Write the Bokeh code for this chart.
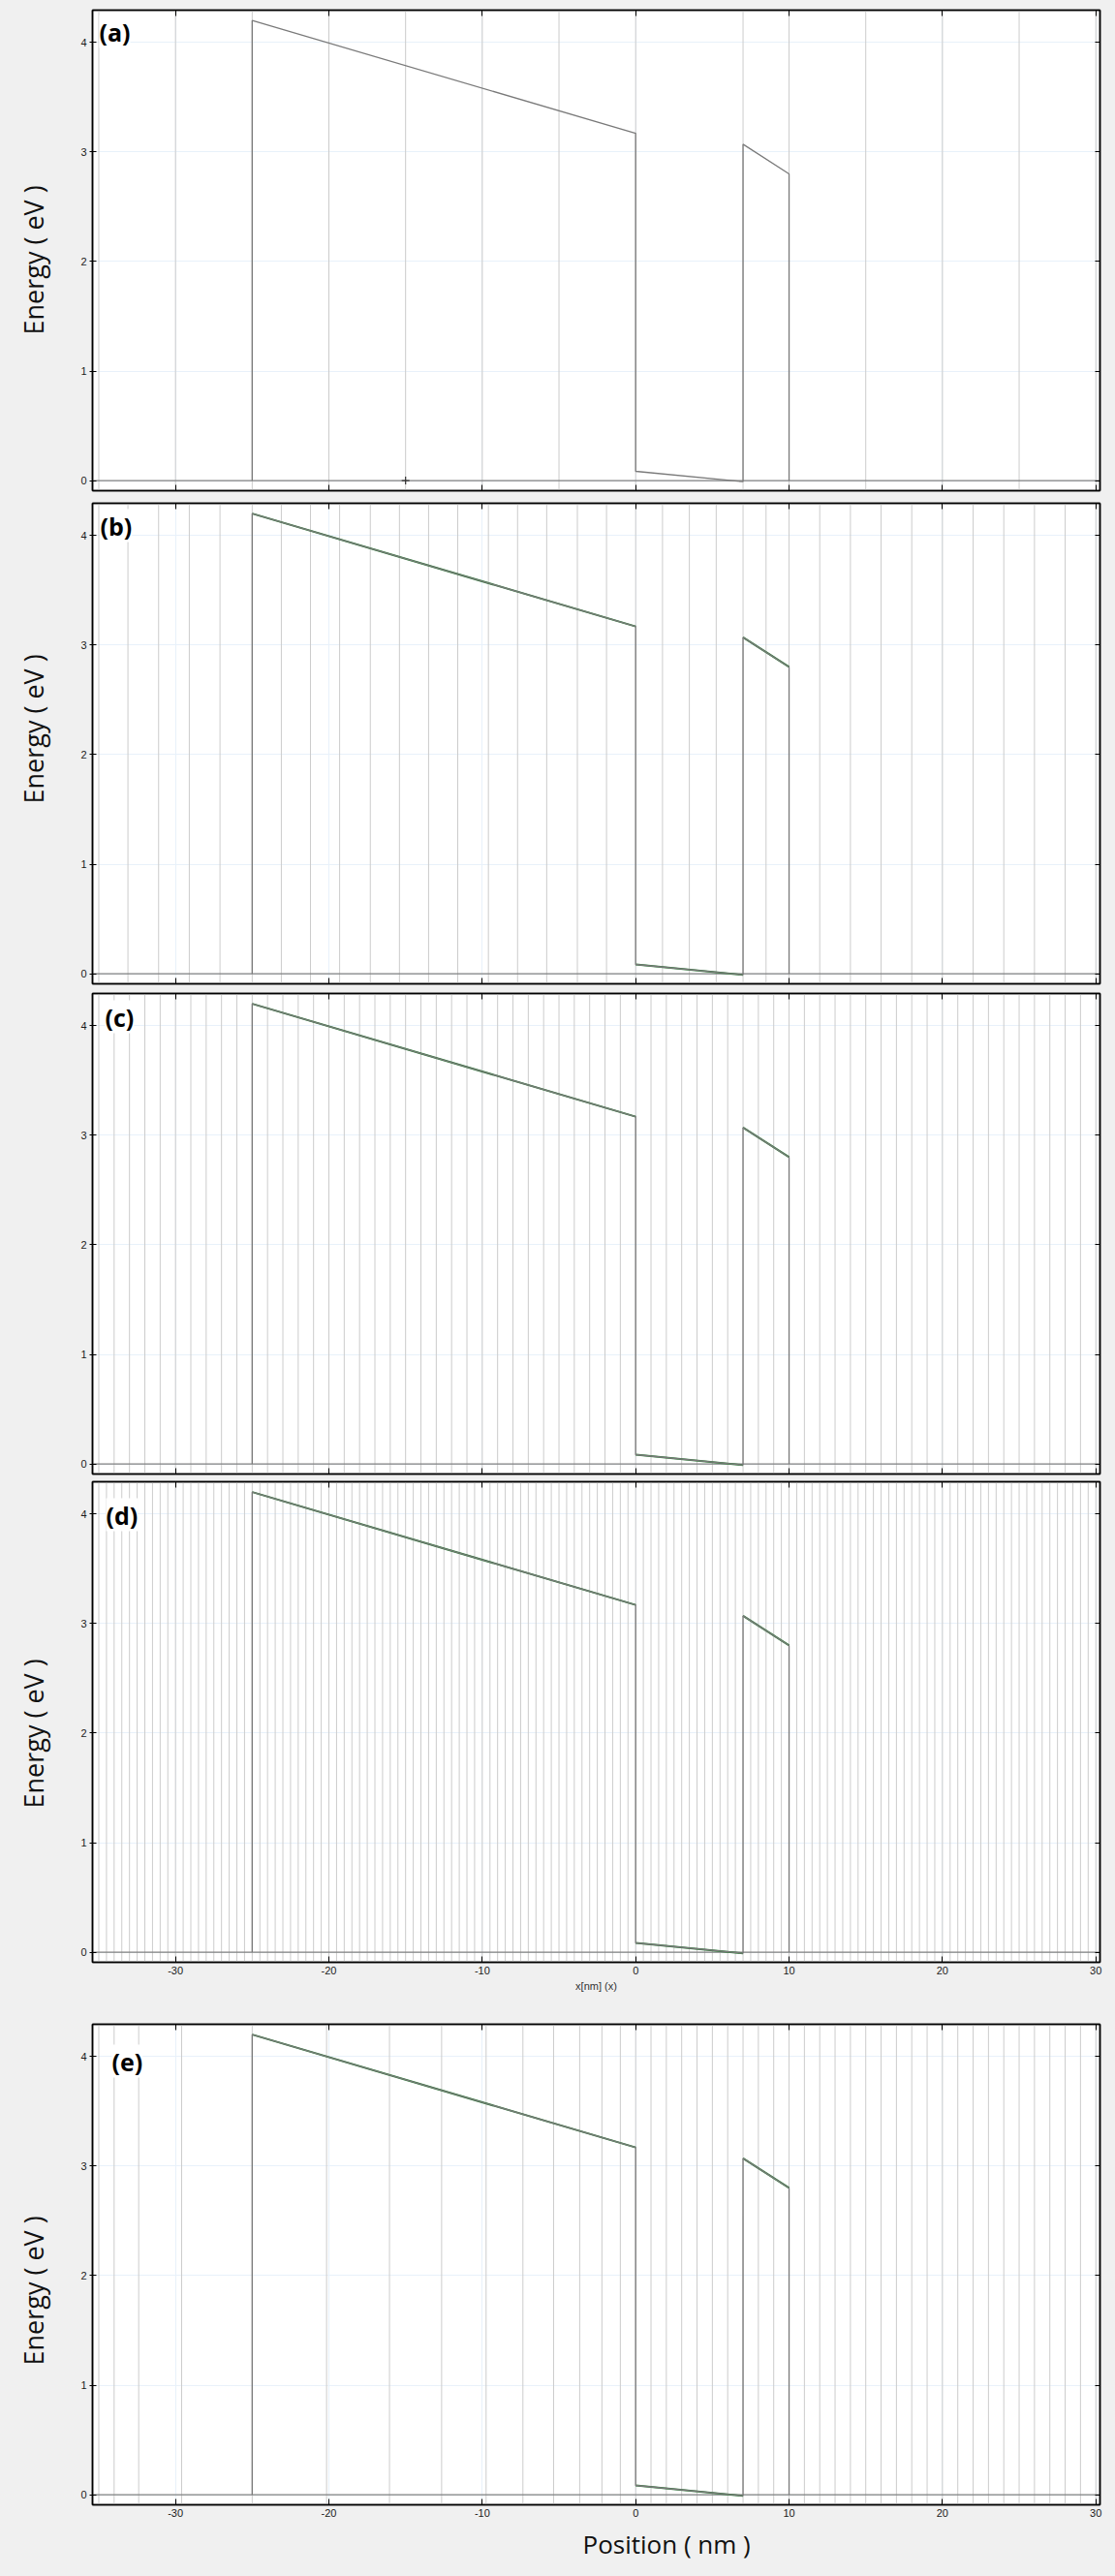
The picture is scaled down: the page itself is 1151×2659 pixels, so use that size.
import math
from bokeh.plotting import figure
from bokeh.models import (Range1d, LinearAxis, FixedTicker, Span, Label, Title,
                          CustomJSTickFormatter)
from bokeh.layouts import column
from bokeh.embed import file_html
from bokeh.resources import INLINE

# ---------------- data ----------------
x_ticks = [-30, -20, -10, 0, 10, 20, 30]
y_ticks = [0, 1, 2, 3, 4]
x_start, x_end = -35.41, 30.27
y_start, y_end = -0.092, 4.294

# band edge profile (nm, eV)
band_x = [-25.0, -25.0, 0.0, 0.0, 7.0, 7.0, 10.0, 10.0]
band_y = [0.0, 4.20, 3.17, 0.085, -0.01, 3.07, 2.80, 0.0]
fermi_level = 0.0
marker_x = [-15.0]
marker_y = [0.0]

panel_names = ["(a)", "(b)", "(c)", "(d)", "(e)"]
y_title = "Energy ( eV )"
x_title = "Position ( nm )"
x_title_small = "x[nm] (x)"

# mesh line positions (nm) for each panel
mesh_a = [-35, -30, -25, -20, -15, -10, -5, 0, 7, 10, 15, 20, 25, 30]
mesh_b = [-35, -33.1, -31.1, -29.1, -27.1, -25, -23.1, -21.2, -19.3, -17.3, -15.4,
          -13.5, -11.6, -9.6, -7.7, -5.8, -3.8, -1.9, 0, 1.75, 3.5, 5.25, 7, 8.5, 10,
          12, 14, 16, 18, 20, 22, 24, 26, 28, 30]
mesh_c = [-35, -34, -33, -32, -31, -30, -29, -28, -27, -26, -25, -24, -23, -22, -21,
          -20, -19, -18, -17, -16, -15, -14, -13, -12, -11, -10, -9, -8, -7, -6, -5,
          -4, -3, -2, -1, 0, 1, 2, 3, 4, 5, 6, 7, 8, 9, 10, 11, 12, 13, 14, 15, 16,
          17, 18, 19, 20, 21, 22, 23, 24, 25, 26, 27, 28, 29, 30]
mesh_d = [-35, -34.5, -34, -33.5, -33, -32.5, -32, -31.5, -31, -30.5, -30, -29.5,
          -29, -28.5, -28, -27.5, -27, -26.5, -26, -25.5, -25, -24.5, -24, -23.5,
          -23, -22.5, -22, -21.5, -21, -20.5, -20, -19.5, -19, -18.5, -18, -17.5,
          -17, -16.5, -16, -15.5, -15, -14.5, -14, -13.5, -13, -12.5, -12, -11.5,
          -11, -10.5, -10, -9.5, -9, -8.5, -8, -7.5, -7, -6.5, -6, -5.5, -5, -4.5,
          -4, -3.5, -3, -2.5, -2, -1.5, -1, -0.5, 0, 0.5, 1, 1.5, 2, 2.5, 3, 3.5,
          4, 4.5, 5, 5.5, 6, 6.5, 7, 7.5, 8, 8.5, 9, 9.5, 10, 10.5, 11, 11.5, 12,
          12.5, 13, 13.5, 14, 14.5, 15, 15.5, 16, 16.5, 17, 17.5, 18, 18.5, 19,
          19.5, 20, 20.5, 21, 21.5, 22, 22.5, 23, 23.5, 24, 24.5, 25, 25.5, 26,
          26.5, 27, 27.5, 28, 28.5, 29, 29.5, 30]
mesh_e = [-35, -34.0, -32.4, -29.6, -25, -20.15, -16.05, -12.65, -9.75, -7.35, -5.35,
          -3.65, -2.2, -1.0, 0, 1, 2, 3, 4, 5, 6, 7, 8, 9, 10, 11, 12, 13, 14, 15,
          16, 17, 18, 19, 20, 21, 22, 23, 24, 25, 26, 27, 28, 29, 30]

FONT = "Open Sans"
TICK_FONT = "Liberation Sans"
BG = "#f0f0f0"
MESH_COLOR = "#cccccc"
GRID_COLOR = "#e8f1fa"
LINE_COLOR = "#7a7a7a"
GREEN = "#2a7a35"
SHIFT = 18            # hidden strip of left border (column pulled left by this)
FIG_W = 1148 + SHIFT

EMPTY = "return ''"
PLAIN = "return String(tick)"


def tick_only_axis(ticker, tick_in):
    return LinearAxis(ticker=FixedTicker(ticks=ticker), major_tick_in=tick_in,
                      major_tick_out=0, minor_tick_in=0, minor_tick_out=0,
                      formatter=CustomJSTickFormatter(code=EMPTY),
                      major_label_text_font_size="0px", major_label_standoff=0,
                      axis_line_color="black", axis_line_width=1.5)


def make_panel(name, mesh, height, frame_left, frame_right, bt, bb, x_labels, green,
               name_dx, name_dy, ytitle_offset, marker=False):
    frame_h = height - bt - bb
    p = figure(width=FIG_W, height=height,
               x_range=Range1d(x_start, x_end), y_range=Range1d(y_start, y_end),
               output_backend="svg", toolbar_location=None,
               min_border_left=frame_left + SHIFT,
               min_border_right=FIG_W - SHIFT - frame_right,
               min_border_top=bt, min_border_bottom=bb,
               background_fill_color="white", border_fill_color=BG,
               outline_line_color="black", outline_line_width=1.5)

    # bottom x axis
    xa = p.xaxis[0]
    xa.ticker = FixedTicker(ticks=x_ticks)
    xa.major_tick_in = 6
    xa.major_tick_out = 0
    xa.minor_tick_in = 0
    xa.minor_tick_out = 0
    xa.axis_line_color = "black"
    xa.axis_line_width = 1.5
    xa.major_tick_line_color = "black"
    if x_labels:
        xa.formatter = CustomJSTickFormatter(code=PLAIN)
        xa.major_label_text_font = TICK_FONT
        xa.major_label_text_font_size = "11px"
        xa.major_label_text_color = "#1a1a1a"
        xa.major_label_standoff = 4
    else:
        xa.formatter = CustomJSTickFormatter(code=EMPTY)
        xa.major_label_text_font_size = "0px"
        xa.major_label_standoff = 0

    # left y axis
    ya = p.yaxis[0]
    ya.ticker = FixedTicker(ticks=y_ticks)
    ya.major_tick_in = 4
    ya.major_tick_out = 3
    ya.minor_tick_in = 0
    ya.minor_tick_out = 0
    ya.axis_line_color = "black"
    ya.axis_line_width = 1.5
    ya.major_tick_line_color = "black"
    ya.major_label_text_font = TICK_FONT
    ya.major_label_text_font_size = "11px"
    ya.major_label_text_color = "#1a1a1a"
    ya.major_label_standoff = 3

    # top and right axes: ticks only
    p.add_layout(tick_only_axis(x_ticks, 6), "above")
    p.add_layout(tick_only_axis(y_ticks, 5), "right")

    # faint major grid
    p.xgrid.ticker = FixedTicker(ticks=x_ticks)
    p.ygrid.ticker = FixedTicker(ticks=y_ticks)
    p.grid.grid_line_color = GRID_COLOR
    p.grid.grid_line_width = 1

    # mesh lines
    for m in mesh:
        p.add_layout(Span(location=m, dimension="height", line_color=MESH_COLOR,
                          line_width=1, level="underlay"))
    # zero / fermi line
    p.add_layout(Span(location=fermi_level, dimension="width", line_color="#808080",
                      line_width=1.3, level="underlay"))

    # band profile
    if green:
        gx = [[band_x[1], band_x[2]], [band_x[3], band_x[4]], [band_x[5], band_x[6]]]
        gy = [[band_y[1], band_y[2]], [band_y[3], band_y[4]], [band_y[5], band_y[6]]]
        p.multi_line(gx, gy, line_color=GREEN, line_width=2.0)
    p.line(band_x, band_y, line_color=LINE_COLOR, line_width=1.3)

    if marker:
        p.scatter(marker_x, marker_y, marker="cross", size=8, line_color="#333333",
                  line_width=1.2)

    # panel name
    p.add_layout(Label(x=name_dx, y=frame_h - name_dy, x_units="screen", y_units="screen",
                       text=name, text_font=FONT, text_font_style="bold",
                       text_font_size="25px", text_color="black",
                       text_baseline="top", text_align="left",
                       background_fill_color="white"))

    if ytitle_offset is not None:
        p.add_layout(Title(text=y_title, align="left", offset=ytitle_offset,
                           text_font=FONT, text_font_size="27px",
                           text_font_style="normal", text_color="#111111",
                           standoff=56), "left")
    return p


# page starts at y=0 (template has no body margin)
pa = make_panel(panel_names[0], mesh_a, 512, 92, 1135, 10, 6, False, False,
                7, 5, 161, marker=True)
pb = make_panel(panel_names[1], mesh_b, 508, 92, 1135, 7, 5, False, True,
                8, 6, 186)
pc = make_panel(panel_names[2], mesh_c, 505, 92, 1135, 5, 4, False, True,
                13, 7, None)
pd = make_panel(panel_names[3], mesh_d, 536, 92, 1135, 4, 36, True, True,
                14, 17, 159)
pe = make_panel(panel_names[4], mesh_e, 594, 95, 1138, 28, 70, True, True,
                20, 21, 144)

pd.add_layout(Title(text=x_title_small, align="center", text_font=TICK_FONT,
                    text_font_size="11px", text_font_style="normal",
                    text_color="#333333", standoff=3), "below")
pe.add_layout(Title(text=x_title, align="left", offset=506, text_font=FONT,
                    text_font_size="26px", text_font_style="normal",
                    text_color="#111111", standoff=10), "below")

layout = column(pa, pb, pc, pd, pe, spacing=0,
                styles={"background-color": BG, "margin-left": f"-{SHIFT}px"})

html = file_html(layout, INLINE)
html = html.replace("</head>",
                    "<style>html,body{background-color:#f0f0f0;overflow:hidden;}</style></head>", 1)
open("out.html", "w").write(html)
